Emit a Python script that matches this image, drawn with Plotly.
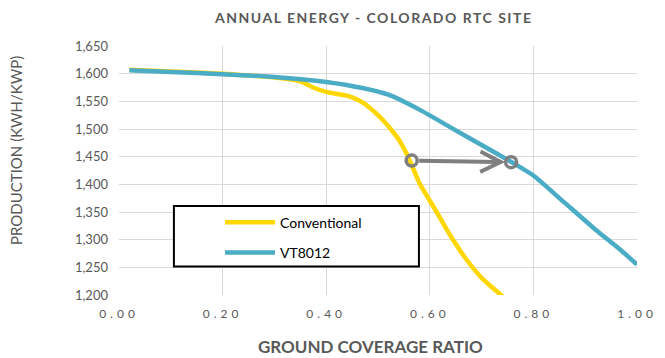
import plotly.graph_objects as go

# ---- data ----
conv_gcr = [0.02, 0.10, 0.20, 0.30, 0.35, 0.375, 0.40, 0.445, 0.47, 0.50, 0.52, 0.54,
            0.56, 0.58, 0.61, 0.64, 0.67, 0.70, 0.75]
conv_prod = [1607, 1604, 1600, 1593, 1586, 1575, 1567, 1559, 1548, 1525, 1505, 1481,
             1446, 1402, 1355, 1307, 1265, 1231, 1190]

vt_gcr = [0.02, 0.10, 0.20, 0.30, 0.40, 0.47, 0.52, 0.58, 0.64, 0.70, 0.76,
          0.80, 0.86, 0.92, 0.97, 1.00]
vt_prod = [1606, 1603, 1599, 1594, 1585, 1574, 1562, 1535, 1503, 1471, 1439,
           1416, 1367, 1318, 1280, 1255]

arrow_gcr = [0.565, 0.757]
arrow_prod = [1443, 1440]

x_ticks = [0.0, 0.2, 0.4, 0.6, 0.8, 1.0]
x_ticklabels = ["0.00", "0.20", "0.40", "0.60", "0.80", "1.00"]
y_ticks = [1200, 1250, 1300, 1350, 1400, 1450, 1500, 1550, 1600, 1650]
y_ticklabels = ["1,200", "1,250", "1,300", "1,350", "1,400", "1,450", "1,500",
                "1,550", "1,600", "1,650"]

TXT = "#595959"
FONT = "Lato, 'Liberation Sans', sans-serif"

fig = go.Figure()
fig.add_trace(go.Scatter(x=conv_gcr, y=conv_prod, mode="lines", name="Conventional",
                         line=dict(color="#FFD700", width=4.5, shape="spline", smoothing=0.5),
                         legendgroup="a"))
fig.add_trace(go.Scatter(x=vt_gcr, y=vt_prod, mode="lines", name="VT8012",
                         line=dict(color="#4BACC6", width=4.5, shape="spline", smoothing=0.5),
                         legendgroup="b"))
fig.add_trace(go.Scatter(x=arrow_gcr, y=arrow_prod, mode="markers", showlegend=False,
                         marker=dict(symbol="circle-open", size=11, color="#7F7F7F",
                                     line=dict(width=3.5, color="#7F7F7F"))))
fig.add_annotation(x=arrow_gcr[1], y=arrow_prod[1], ax=arrow_gcr[0], ay=arrow_prod[0],
                   xref="x", yref="y", axref="x", ayref="y", text="",
                   showarrow=True, arrowhead=5, arrowsize=1.0, arrowwidth=4,
                   arrowcolor="#7F7F7F", standoff=6, startstandoff=6)

# legend frame
fig.add_shape(type="rect", xref="paper", yref="paper",
              x0=0.106, x1=0.579, y0=0.114, y1=0.357,
              line=dict(color="black", width=2), fillcolor="white", layer="above")

fig.update_layout(
    width=665, height=358,
    margin=dict(l=119, r=28, t=46, b=63),
    paper_bgcolor="white", plot_bgcolor="white",
    font=dict(family=FONT, color=TXT, size=12),
    title=dict(text="<b>ANNUAL ENERGY - COLORADO RTC SITE</b>", x=0.562, xanchor="center",
               y=0.95, yanchor="middle", font=dict(size=14, color=TXT, family=FONT)),
    showlegend=True,
    legend=dict(x=0.195, y=0.355, xanchor="left", yanchor="top", bgcolor="rgba(0,0,0,0)",
                borderwidth=0, font=dict(size=14, color="black", family=FONT),
                tracegroupgap=9, itemwidth=50),
    xaxis=dict(range=[0, 1], tickvals=x_ticks, ticktext=x_ticklabels,
               showgrid=True, gridcolor="#D9D9D9", gridwidth=1, zeroline=False,
               showline=False, ticks="", ticklabelstandoff=10,
               tickfont=dict(size=12, color=TXT, family=FONT)),
    yaxis=dict(range=[1200, 1650], tickvals=y_ticks, ticktext=y_ticklabels,
               showgrid=True, gridcolor="#D9D9D9", gridwidth=1, zeroline=False,
               showline=False, ticks="", ticklabelstandoff=10,
               tickfont=dict(size=13, color=TXT, family=FONT)),
)
fig.add_annotation(text="<b>GROUND COVERAGE RATIO</b>", xref="paper", yref="paper",
                   x=0.485, y=-0.205, xanchor="center", yanchor="middle",
                   showarrow=False, font=dict(size=17, color=TXT, family=FONT))
fig.add_annotation(text="PRODUCTION (KWH/KWP)", xref="paper", yref="paper",
                   x=-0.2, y=0.58, xanchor="center", yanchor="middle", textangle=-90,
                   showarrow=False, font=dict(size=15, color=TXT, family=FONT))

post = """
document.body.style.margin='0';
var s=document.createElement('style');
s.innerHTML='.xtick text{letter-spacing:4px !important;} .gtitle{letter-spacing:1.5px !important;}';
document.head.appendChild(s);
"""
fig.write_html("out.html", post_script=post, config={"displayModeBar": False})
